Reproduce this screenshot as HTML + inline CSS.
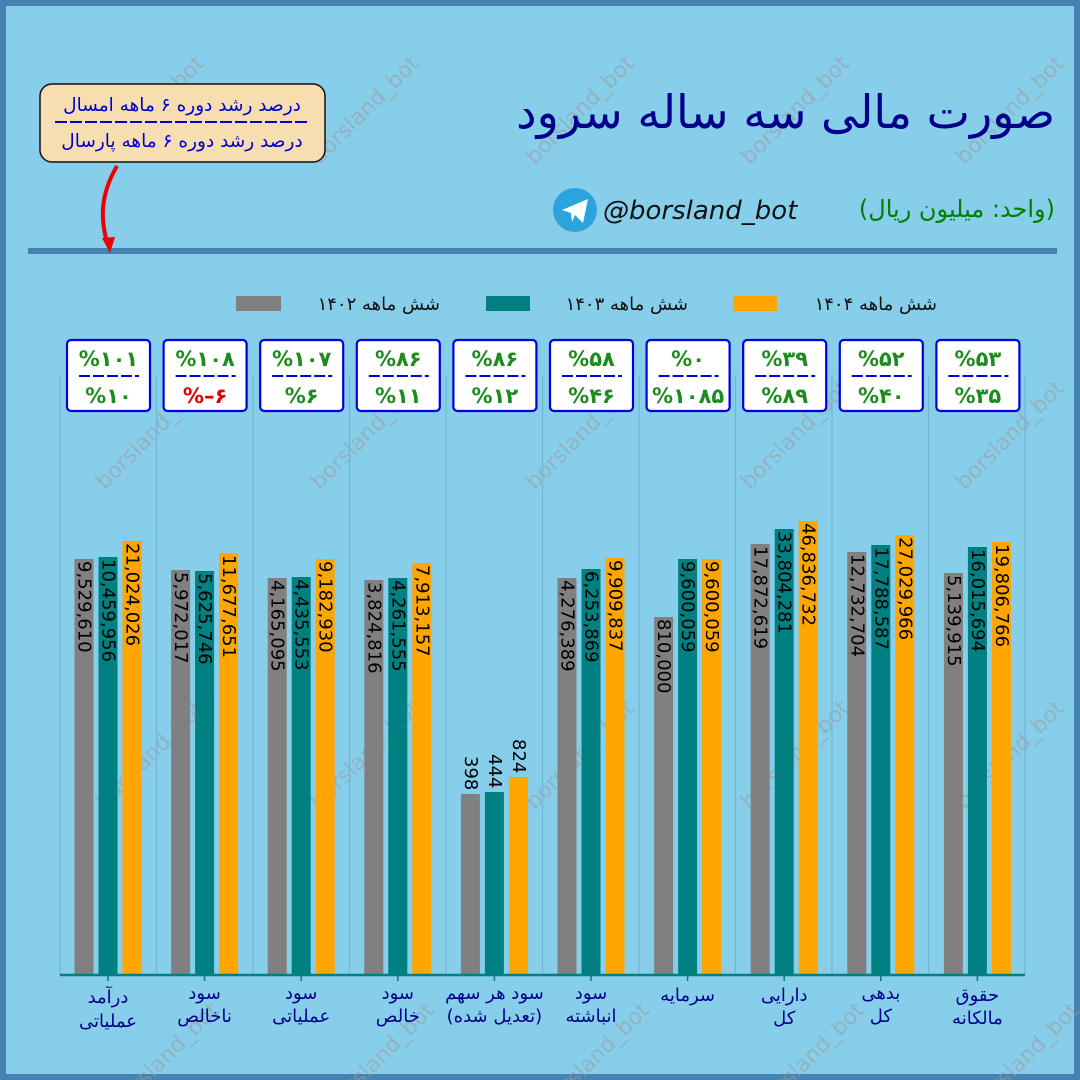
<!DOCTYPE html>
<html><head><meta charset="utf-8"><style>
html,body{margin:0;padding:0;background:#87CEEB;overflow:hidden;}
svg{display:block;}
</style></head><body>
<svg width="1080" height="1080" viewBox="0 0 1080 1080" xmlns="http://www.w3.org/2000/svg">
<rect x="0" y="0" width="1080" height="1080" fill="#87CEEB"/>
<rect x="3" y="3" width="1074" height="1074" fill="none" stroke="#4682B4" stroke-width="6"/>

<g font-family="DejaVu Sans, Liberation Sans, sans-serif" font-size="22" fill="#9a9a9a" fill-opacity="0.55">
<text transform="translate(155,115) rotate(-45)" text-anchor="middle">borsland_bot</text>
<text transform="translate(370,115) rotate(-45)" text-anchor="middle">borsland_bot</text>
<text transform="translate(585,115) rotate(-45)" text-anchor="middle">borsland_bot</text>
<text transform="translate(800,115) rotate(-45)" text-anchor="middle">borsland_bot</text>
<text transform="translate(1015,115) rotate(-45)" text-anchor="middle">borsland_bot</text>
<text transform="translate(155,440) rotate(-45)" text-anchor="middle">borsland_bot</text>
<text transform="translate(370,440) rotate(-45)" text-anchor="middle">borsland_bot</text>
<text transform="translate(585,440) rotate(-45)" text-anchor="middle">borsland_bot</text>
<text transform="translate(800,440) rotate(-45)" text-anchor="middle">borsland_bot</text>
<text transform="translate(1015,440) rotate(-45)" text-anchor="middle">borsland_bot</text>
<text transform="translate(155,760) rotate(-45)" text-anchor="middle">borsland_bot</text>
<text transform="translate(370,760) rotate(-45)" text-anchor="middle">borsland_bot</text>
<text transform="translate(585,760) rotate(-45)" text-anchor="middle">borsland_bot</text>
<text transform="translate(800,760) rotate(-45)" text-anchor="middle">borsland_bot</text>
<text transform="translate(1015,760) rotate(-45)" text-anchor="middle">borsland_bot</text>
<text transform="translate(170,1062) rotate(-45)" text-anchor="middle">borsland_bot</text>
<text transform="translate(385,1062) rotate(-45)" text-anchor="middle">borsland_bot</text>
<text transform="translate(600,1062) rotate(-45)" text-anchor="middle">borsland_bot</text>
<text transform="translate(815,1062) rotate(-45)" text-anchor="middle">borsland_bot</text>
<text transform="translate(1030,1062) rotate(-45)" text-anchor="middle">borsland_bot</text>
</g>

<text x="1055" y="128" text-anchor="start" direction="rtl" font-family="DejaVu Sans, sans-serif" font-size="46" fill="#00008B">صورت مالی سه ساله سرود</text>
<circle cx="575" cy="210" r="22" fill="#2AA3DE"/>
<path d="M562 210 L588 199 L583 223 L575 215 L572 222 L571 213 Z" fill="#fff"/>
<text x="603" y="219" font-family="DejaVu Sans, sans-serif" font-style="italic" font-size="26" fill="#111">@borsland_bot</text>
<text x="1055" y="217" text-anchor="start" direction="rtl" font-family="DejaVu Sans, sans-serif" font-size="24" fill="#008000">(واحد: میلیون ریال)</text>
<rect x="28" y="248" width="1029" height="6" fill="#4682B4"/>

<rect x="40" y="84" width="285" height="78" rx="12" fill="#F7DEB0" stroke="#111" stroke-width="1.5"/>
<text x="182" y="111" text-anchor="middle" direction="rtl" font-family="DejaVu Sans, sans-serif" font-size="18.5" fill="#0000CD">درصد رشد دوره ۶ ماهه امسال</text>
<line x1="55" y1="122" x2="310" y2="122" stroke="#0000CD" stroke-width="2" stroke-dasharray="12,3"/>
<text x="182" y="147" text-anchor="middle" direction="rtl" font-family="DejaVu Sans, sans-serif" font-size="18.5" fill="#0000CD">درصد رشد دوره ۶ ماهه پارسال</text>
<path d="M117 166 C100 195 100 220 108 245" fill="none" stroke="#EE0000" stroke-width="4"/>
<path d="M102 238 L110 253 L115 237 Z" fill="#EE0000"/>

<g font-family="DejaVu Sans, sans-serif" font-size="18" fill="#111">
<rect x="236" y="296" width="45" height="15" fill="#808080"/>
<text x="440" y="310" text-anchor="start" direction="rtl">شش ماهه ۱۴۰۲</text>
<rect x="486" y="296" width="44" height="15" fill="#008080"/>
<text x="688" y="310" text-anchor="start" direction="rtl">شش ماهه ۱۴۰۳</text>
<rect x="733" y="296" width="44" height="15" fill="#FFA500"/>
<text x="937" y="310" text-anchor="start" direction="rtl">شش ماهه ۱۴۰۴</text>
</g>

<g stroke="#6fb6d6" stroke-width="1.2">
<line x1="60" y1="375" x2="60" y2="975"/><line x1="156.5" y1="375" x2="156.5" y2="975"/>
<line x1="253" y1="375" x2="253" y2="975"/><line x1="349.5" y1="375" x2="349.5" y2="975"/>
<line x1="446" y1="375" x2="446" y2="975"/><line x1="542.5" y1="375" x2="542.5" y2="975"/>
<line x1="639" y1="375" x2="639" y2="975"/><line x1="735.5" y1="375" x2="735.5" y2="975"/>
<line x1="832" y1="375" x2="832" y2="975"/><line x1="928.5" y1="375" x2="928.5" y2="975"/>
<line x1="1025" y1="375" x2="1025" y2="975"/>
</g>

<g>
<rect x="74.5" y="559" width="19" height="416" fill="#808080"/><rect x="98.5" y="557" width="19" height="418" fill="#008080"/><rect x="122.5" y="541" width="19" height="434" fill="#FFA500"/>
<rect x="171.1" y="570" width="19" height="405" fill="#808080"/><rect x="195.1" y="571" width="19" height="404" fill="#008080"/><rect x="219.1" y="553" width="19" height="422" fill="#FFA500"/>
<rect x="267.7" y="578" width="19" height="397" fill="#808080"/><rect x="291.7" y="577" width="19" height="398" fill="#008080"/><rect x="315.7" y="559" width="19" height="416" fill="#FFA500"/>
<rect x="364.3" y="580" width="19" height="395" fill="#808080"/><rect x="388.3" y="578" width="19" height="397" fill="#008080"/><rect x="412.3" y="563" width="19" height="412" fill="#FFA500"/>
<rect x="460.9" y="794" width="19" height="181" fill="#808080"/><rect x="484.9" y="792" width="19" height="183" fill="#008080"/><rect x="508.9" y="777" width="19" height="198" fill="#FFA500"/>
<rect x="557.5" y="578" width="19" height="397" fill="#808080"/><rect x="581.5" y="569" width="19" height="406" fill="#008080"/><rect x="605.5" y="558" width="19" height="417" fill="#FFA500"/>
<rect x="654.1" y="617" width="19" height="358" fill="#808080"/><rect x="678.1" y="559" width="19" height="416" fill="#008080"/><rect x="702.1" y="559" width="19" height="416" fill="#FFA500"/>
<rect x="750.7" y="544" width="19" height="431" fill="#808080"/><rect x="774.7" y="529" width="19" height="446" fill="#008080"/><rect x="798.7" y="521" width="19" height="454" fill="#FFA500"/>
<rect x="847.3" y="552" width="19" height="423" fill="#808080"/><rect x="871.3" y="545" width="19" height="430" fill="#008080"/><rect x="895.3" y="535" width="19" height="440" fill="#FFA500"/>
<rect x="943.9" y="573" width="19" height="402" fill="#808080"/><rect x="967.9" y="547" width="19" height="428" fill="#008080"/><rect x="991.9" y="542" width="19" height="433" fill="#FFA500"/>
</g>

<g font-family="DejaVu Sans, sans-serif" font-size="18" fill="#000" dominant-baseline="central">
<text transform="translate(84,561) rotate(90)">9,529,610</text>
<text transform="translate(108,559) rotate(90)">10,459,956</text>
<text transform="translate(132,543) rotate(90)">21,024,026</text>
<text transform="translate(180.6,572) rotate(90)">5,972,017</text>
<text transform="translate(204.6,573) rotate(90)">5,625,746</text>
<text transform="translate(228.6,555) rotate(90)">11,677,651</text>
<text transform="translate(277.2,580) rotate(90)">4,165,095</text>
<text transform="translate(301.2,579) rotate(90)">4,435,553</text>
<text transform="translate(325.2,561) rotate(90)">9,182,930</text>
<text transform="translate(373.8,582) rotate(90)">3,824,816</text>
<text transform="translate(397.8,580) rotate(90)">4,261,555</text>
<text transform="translate(421.8,565) rotate(90)">7,913,157</text>
<text transform="translate(470.4,756) rotate(90)">398</text>
<text transform="translate(494.4,754) rotate(90)">444</text>
<text transform="translate(518.4,739) rotate(90)">824</text>
<text transform="translate(567,580) rotate(90)">4,276,389</text>
<text transform="translate(591,571) rotate(90)">6,253,869</text>
<text transform="translate(615,560) rotate(90)">9,909,837</text>
<text transform="translate(663.6,619) rotate(90)">810,000</text>
<text transform="translate(687.6,561) rotate(90)">9,600,059</text>
<text transform="translate(711.6,561) rotate(90)">9,600,059</text>
<text transform="translate(760.2,546) rotate(90)">17,872,619</text>
<text transform="translate(784.2,531) rotate(90)">33,804,281</text>
<text transform="translate(808.2,523) rotate(90)">46,836,732</text>
<text transform="translate(856.8,554) rotate(90)">12,732,704</text>
<text transform="translate(880.8,547) rotate(90)">17,788,587</text>
<text transform="translate(904.8,537) rotate(90)">27,029,966</text>
<text transform="translate(953.4,575) rotate(90)">5,139,915</text>
<text transform="translate(977.4,549) rotate(90)">16,015,694</text>
<text transform="translate(1001.4,544) rotate(90)">19,806,766</text>
</g>

<line x1="60" y1="975" x2="1025" y2="975" stroke="#008080" stroke-width="2.5"/>
<g stroke="#008080" stroke-width="1.5">
<line x1="108" y1="975" x2="108" y2="981"/><line x1="204.6" y1="975" x2="204.6" y2="981"/><line x1="301.2" y1="975" x2="301.2" y2="981"/><line x1="397.8" y1="975" x2="397.8" y2="981"/><line x1="494.4" y1="975" x2="494.4" y2="981"/><line x1="591" y1="975" x2="591" y2="981"/><line x1="687.6" y1="975" x2="687.6" y2="981"/><line x1="784.2" y1="975" x2="784.2" y2="981"/><line x1="880.8" y1="975" x2="880.8" y2="981"/><line x1="977.4" y1="975" x2="977.4" y2="981"/>
</g>

<g font-family="DejaVu Sans, sans-serif" font-size="18" fill="#00008B" text-anchor="middle" direction="rtl">
<text x="108" y="1003">درآمد</text><text x="108" y="1027">عملیاتی</text>
<text x="204.6" y="999">سود</text><text x="204.6" y="1022">ناخالص</text>
<text x="301.2" y="999">سود</text><text x="301.2" y="1022">عملیاتی</text>
<text x="397.8" y="999">سود</text><text x="397.8" y="1022">خالص</text>
<text x="494.4" y="999">سود هر سهم</text><text x="494.4" y="1022">(تعدیل شده)</text>
<text x="591" y="999">سود</text><text x="591" y="1022">انباشته</text>
<text x="687.6" y="1001">سرمایه</text>
<text x="784.2" y="1001">دارایی</text><text x="784.2" y="1024">کل</text>
<text x="880.8" y="999">بدهی</text><text x="880.8" y="1022">کل</text>
<text x="977.4" y="1001">حقوق</text><text x="977.4" y="1024">مالکانه</text>
</g>

<g font-family="DejaVu Sans, sans-serif" font-size="21" font-weight="bold" text-anchor="middle">
<g fill="#fff" stroke="#0000DD" stroke-width="2.2">
<rect x="67" y="340" width="83" height="71" rx="4"/>
<rect x="163.6" y="340" width="83" height="71" rx="4"/>
<rect x="260.2" y="340" width="83" height="71" rx="4"/>
<rect x="356.8" y="340" width="83" height="71" rx="4"/>
<rect x="453.4" y="340" width="83" height="71" rx="4"/>
<rect x="550" y="340" width="83" height="71" rx="4"/>
<rect x="646.6" y="340" width="83" height="71" rx="4"/>
<rect x="743.2" y="340" width="83" height="71" rx="4"/>
<rect x="839.8" y="340" width="83" height="71" rx="4"/>
<rect x="936.4" y="340" width="83" height="71" rx="4"/>
</g>
<g stroke="#0000DD" stroke-width="2" stroke-dasharray="11,3">
<line x1="79" y1="376" x2="139" y2="376"/><line x1="175.6" y1="376" x2="235.6" y2="376"/><line x1="272.2" y1="376" x2="332.2" y2="376"/><line x1="368.8" y1="376" x2="428.8" y2="376"/><line x1="465.4" y1="376" x2="525.4" y2="376"/><line x1="562" y1="376" x2="622" y2="376"/><line x1="658.6" y1="376" x2="718.6" y2="376"/><line x1="755.2" y1="376" x2="815.2" y2="376"/><line x1="851.8" y1="376" x2="911.8" y2="376"/><line x1="948.4" y1="376" x2="1008.4" y2="376"/>
</g>
<g fill="#1E8B1E">
<text x="108.5" y="366">%۱۰۱</text><text x="108.5" y="403">%۱۰</text>
<text x="205.1" y="366">%۱۰۸</text><text x="205.1" y="403" fill="#E00000">%–۶</text>
<text x="301.7" y="366">%۱۰۷</text><text x="301.7" y="403">%۶</text>
<text x="398.3" y="366">%۸۶</text><text x="398.3" y="403">%۱۱</text>
<text x="494.9" y="366">%۸۶</text><text x="494.9" y="403">%۱۲</text>
<text x="591.5" y="366">%۵۸</text><text x="591.5" y="403">%۴۶</text>
<text x="688.1" y="366">%۰</text><text x="688.1" y="403">%۱۰۸۵</text>
<text x="784.7" y="366">%۳۹</text><text x="784.7" y="403">%۸۹</text>
<text x="881.3" y="366">%۵۲</text><text x="881.3" y="403">%۴۰</text>
<text x="977.9" y="366">%۵۳</text><text x="977.9" y="403">%۳۵</text>
</g>
</g>
</svg>
</body></html>
